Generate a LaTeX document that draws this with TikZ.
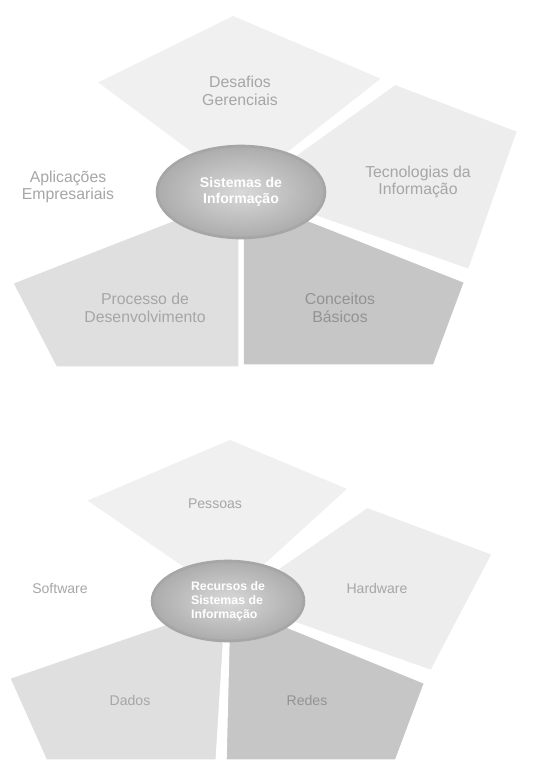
\documentclass[tikz,border=0pt]{standalone}
\usepackage{fontspec}
\setmainfont{Liberation Sans}
\usetikzlibrary{shapes.geometric}
\tikzset{
  regione/.style={draw=white, line width=3pt, line join=round},
  etichetta/.style={text=gray!70, align=center, font=\fontsize{9}{10}\selectfont},
  piccola/.style={etichetta, font=\fontsize{8}{9}\selectfont},
  centro/.style={ellipse, draw=gray!70, line width=1.5pt, inner color=gray!30, outer color=gray!65,
    text=white, align=center, inner sep=0pt}
}
\begin{document}
\begin{tikzpicture}[x=0.02cm, y=-0.02cm]
  \useasboundingbox (0,0) rectangle (543,760);

  % Regioni (sopra)
  \coordinate (c1) at (241,192);
  \path[regione, fill=gray!12] (c1) -- (93,82) -- (233,13) -- (386,78) -- cycle;
  \path[regione, fill=gray!14] (c1) -- (395,82) -- (520,130) -- (470,272) -- cycle;
  \path[regione, fill=gray!45] (c1) -- (467,281) -- (435,367) -- (241,367) -- cycle;
  \path[regione, fill=gray!25] (c1) -- (241,369) -- (55,369) -- (10,282) -- cycle;

  % Nodi (sopra)
  \node[centro, minimum width=3.36cm, minimum height=1.84cm,
        font=\bfseries\fontsize{8}{9.5}\selectfont] (si) at (c1) {Sistemas de\\Informação};
  \node[etichetta] (desafios) at (240,91) {Desafios\\Gerenciais};
  \node[etichetta] (aplicacoes) at (68,187) {Aplicações\\Empresariais};
  \node[etichetta] (tecnologias) at (418,182) {Tecnologias da\\Informação};
  \node[etichetta] (processo) at (145,308) {Processo de\\Desenvolvimento};
  \node[etichetta, text=gray!85] (conceitos) at (340,308) {Conceitos\\Básicos};

  % Regioni (sotto)
  \coordinate (c2) at (228,601);
  \path[regione, fill=gray!12] (c2) -- (82,500) -- (230,437) -- (352,488) -- cycle;
  \path[regione, fill=gray!14] (c2) -- (367,505) -- (495,553) -- (432,673) -- cycle;
  \path[regione, fill=gray!45] (c2) -- (427,682) -- (397,762) -- (224,762) -- cycle;
  \path[regione, fill=gray!25] (c2) -- (218,762) -- (45,762) -- (7,677) -- cycle;

  % Nodi (sotto)
  \node[centro, minimum width=3.04cm, minimum height=1.6cm, align=left,
        font=\bfseries\fontsize{7}{8}\selectfont] (rsi) at (c2) {Recursos de\\Sistemas de\\Informação};
  \node[piccola] (pessoas) at (215,504) {Pessoas};
  \node[piccola] (software) at (60,588) {Software};
  \node[piccola] (hardware) at (377,588) {Hardware};
  \node[piccola] (dados) at (130,700) {Dados};
  \node[piccola, text=gray!85] (redes) at (307,700) {Redes};
\end{tikzpicture}
\end{document}
